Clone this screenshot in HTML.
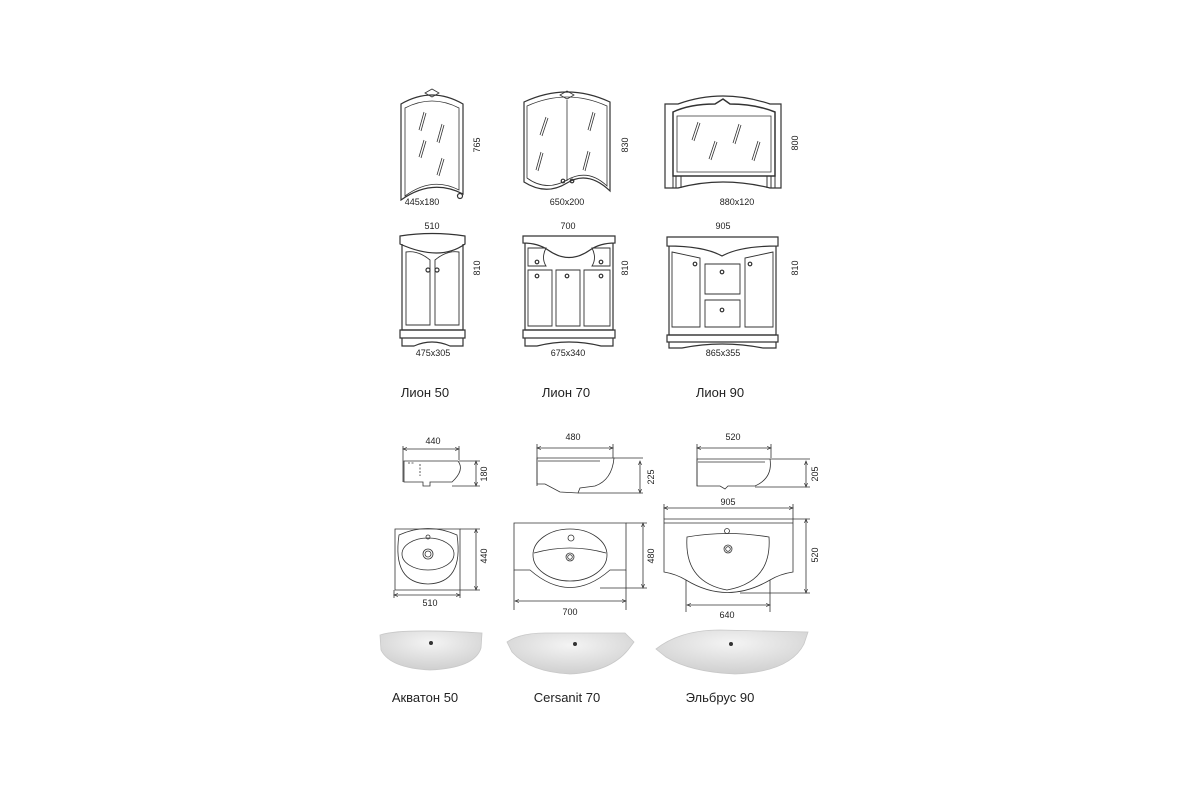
<!DOCTYPE html>
<html><head><meta charset="utf-8"><style>
html,body{margin:0;padding:0;background:#fff;}
svg{display:block}
text{font-family:"Liberation Sans","DejaVu Sans",sans-serif;fill:#222}
.s{font-size:9px}
.l{font-size:13px}
</style></head><body>
<svg width="1200" height="800" viewBox="0 0 1200 800" xmlns="http://www.w3.org/2000/svg">
<defs>
<marker id="a" markerWidth="6" markerHeight="6" refX="5" refY="3" orient="auto"><path d="M0,1 L5,3 L0,5" fill="none" stroke="#333" stroke-width="0.8"/></marker>
<marker id="b" markerWidth="6" markerHeight="6" refX="1" refY="3" orient="auto"><path d="M6,1 L1,3 L6,5" fill="none" stroke="#333" stroke-width="0.8"/></marker>
<radialGradient id="g" cx="50%" cy="30%" r="70%"><stop offset="0" stop-color="#f4f4f4"/><stop offset="1" stop-color="#cfcfcf"/></radialGradient>
</defs>
<g fill="none" stroke="#333" stroke-width="1.2">
<!-- Mirror 1 -->
<path d="M401,104 Q432,86 463,104 L463,194 Q432,178 401,200 Z"/>
<path d="M405,108 Q432,94 459,108 L459,190 Q432,176 405,196 Z" stroke-width="0.8"/>
<path d="M425,93 L432,89 L439,93 L432,97Z" stroke-width="0.8"/>
<circle cx="460" cy="196" r="2.5"/>
<g stroke-width="0.8"><path d="M419,130 L424,112 M421,131 L426,113 M437,142 L442,124 M439,143 L444,125 M419,157 L424,140 M421,158 L426,141 M437,175 L442,158 M439,176 L444,159"/></g>
<!-- Mirror 2 -->
<path d="M524,102 Q567,82 610,102 L610,191 Q588,170 567,183 Q546,196 524,182 Z"/>
<path d="M527,106 Q567,88 607,106 L607,186 Q588,168 567,180 Q546,192 527,178 Z" stroke-width="0.8"/>
<line x1="567" y1="100" x2="567" y2="181" stroke-width="0.8"/>
<path d="M560,95 L567,91 L574,95 L567,99Z" stroke-width="0.8"/>
<circle cx="563" cy="181" r="1.8"/><circle cx="572" cy="181" r="1.8"/>
<g stroke-width="0.8"><path d="M540,135 L546,117 M542,136 L548,118 M588,130 L593,112 M590,131 L595,113 M536,170 L541,152 M538,171 L543,153 M583,170 L588,151 M585,171 L590,152"/></g>
<!-- Mirror 3 -->
<path d="M665,104 L678,104 Q722,88 770,104 L781,104 L781,188 L770,188 Q722,176 678,188 L665,188 Z"/>
<path d="M673,112 Q690,104 715,104 L723,99 L730,104 Q755,104 775,112 L775,176 L673,176 Z" stroke-width="1.5"/>
<path d="M677,116 L771,116 L771,172 L677,172 Z" stroke-width="0.8"/>
<path d="M673,176 L673,188 M676,176 L676,188 M681,176 L681,188 M767,176 L767,188 M771,176 L771,188 M775,176 L775,188" stroke-width="1"/>
<g stroke-width="0.8"><path d="M692,140 L698,122 M694,141 L700,123 M709,159 L715,141 M711,160 L717,142 M733,143 L739,124 M735,144 L741,125 M752,160 L758,141 M754,161 L760,142"/></g>
<!-- Cabinet 1 -->
<path d="M400,236 Q432,231 465,236 L465,244 Q440,262 400,244 Z"/>
<path d="M402,244 L402,330 L463,330 L463,244"/>
<path d="M406,252 Q418,250 430,260 L430,325 L406,325 Z M459,252 Q447,250 435,260 L435,325 L459,325 Z" stroke-width="0.9"/>
<circle cx="428" cy="270" r="2"/><circle cx="437" cy="270" r="2"/>
<path d="M400,330 L465,330 L465,338 L400,338 Z M402,338 L402,346 L414,346 Q432,338 450,346 L463,346 L463,338"/>
<!-- Cabinet 2 -->
<path d="M523,236 L615,236 L615,243 Q600,243 590,250 Q569,265 548,250 Q538,243 523,243 Z"/>
<path d="M525,243 L525,330 L613,330 L613,243"/>
<path d="M528,248 L546,248 Q541,258 546,266 L528,266 Z M610,248 L592,248 Q597,258 592,266 L610,266 Z" stroke-width="0.9"/>
<path d="M528,270 L552,270 L552,326 L528,326 Z M556,270 L580,270 L580,326 L556,326 Z M584,270 L610,270 L610,326 L584,326 Z" stroke-width="0.9"/>
<circle cx="537" cy="262" r="1.8"/><circle cx="601" cy="262" r="1.8"/><circle cx="567" cy="276" r="1.8"/><circle cx="537" cy="276" r="1.8"/><circle cx="601" cy="276" r="1.8"/>
<path d="M523,330 L615,330 L615,338 L523,338 Z M525,338 L525,346 L537,346 Q569,338 601,346 L613,346 L613,338"/>
<path d="M667,237 L778,237 L778,246 Q740,246 722,256 Q704,246 667,246 Z"/>
<path d="M669,246 L669,335 L776,335 L776,246"/>
<path d="M672,252 L700,258 L700,327 L672,327 Z M773,252 L745,258 L745,327 L773,327 Z" stroke-width="0.9"/>
<path d="M705,264 L740,264 L740,294 L705,294 Z M705,300 L740,300 L740,327 L705,327 Z" stroke-width="0.9"/>
<circle cx="695" cy="264" r="1.8"/><circle cx="750" cy="264" r="1.8"/><circle cx="722" cy="272" r="1.8"/><circle cx="722" cy="310" r="1.8"/>
<path d="M667,335 L778,335 L778,342 L667,342 Z M669,342 L669,348 L682,348 Q722,340 763,348 L776,348 L776,342"/>
</g>
<!-- texts row 1 -->
<g class="s" text-anchor="middle">
<text x="422" y="205">445x180</text><text x="567" y="205">650x200</text><text x="737" y="205">880x120</text>
<text x="432" y="229">510</text><text x="568" y="229">700</text><text x="723" y="229">905</text>
<text x="433" y="356">475x305</text><text x="568" y="356">675x340</text><text x="723" y="356">865x355</text>
<text transform="translate(480,145) rotate(-90)">765</text>
<text transform="translate(628,145) rotate(-90)">830</text>
<text transform="translate(798,143) rotate(-90)">800</text>
<text transform="translate(480,268) rotate(-90)">810</text>
<text transform="translate(628,268) rotate(-90)">810</text>
<text transform="translate(798,268) rotate(-90)">810</text>
</g>
<g class="l" text-anchor="middle">
<text x="425" y="397">Лион 50</text><text x="566" y="397">Лион 70</text><text x="720" y="397">Лион 90</text>
<text x="425" y="702">Акватон 50</text><text x="567" y="702">Cersanit 70</text><text x="720" y="702">Эльбрус 90</text>
</g>
<!-- sinks -->
<g fill="none" stroke="#333" stroke-width="0.8">
<line x1="403" y1="449" x2="459" y2="449" marker-start="url(#b)" marker-end="url(#a)"/>
<path d="M403,446 L403,482 M459,446 L459,460"/>
<path d="M404,461 L458,461 Q465,470 452,482 L430,482 L430,486 L423,486 L423,482 L404,482 Z"/>
<path d="M408,463 L414,463 M420,464 L420,476" stroke-dasharray="2,1.5"/>
<line x1="476" y1="461" x2="476" y2="486" marker-start="url(#b)" marker-end="url(#a)"/>
<path d="M459,461 L480,461 M452,486 L480,486"/>
<line x1="537" y1="448" x2="613" y2="448" marker-start="url(#b)" marker-end="url(#a)"/>
<path d="M537,444 L537,486 M613,444 L613,458"/>
<path d="M537,458 L614,458 Q612,480 595,486 L580,488 L578,493 L560,492 L545,484 L537,484 Z M538,461 L600,461"/>
<line x1="640" y1="461" x2="640" y2="493" marker-start="url(#b)" marker-end="url(#a)"/>
<path d="M614,458 L643,458 M578,493 L643,493"/>
<line x1="697" y1="448" x2="771" y2="448" marker-start="url(#b)" marker-end="url(#a)"/>
<path d="M697,444 L697,486 M771,444 L771,458"/>
<path d="M697,459 L770,459 Q773,478 755,486 L728,486 L725,489 L720,486 L697,486 Z M698,462 L765,462"/>
<line x1="806" y1="461" x2="806" y2="487" marker-start="url(#b)" marker-end="url(#a)"/>
<path d="M770,459 L810,459 M755,487 L810,487"/>
<!-- top views -->
<path d="M395,529 L460,529 L460,590 L395,590 Z"/>
<path d="M399,535 Q428,522 457,535 Q464,583 428,584 Q392,583 399,535 Z"/>
<ellipse cx="428" cy="554" rx="26" ry="16"/>
<circle cx="428" cy="554" r="5"/><circle cx="428" cy="554" r="3"/><circle cx="428" cy="537" r="2"/>
<line x1="476" y1="529" x2="476" y2="590" marker-start="url(#b)" marker-end="url(#a)"/>
<path d="M460,529 L480,529 M460,590 L480,590"/>
<line x1="394" y1="595" x2="460" y2="595" marker-start="url(#b)" marker-end="url(#a)"/>
<path d="M394,590 L394,598 M460,590 L460,598"/>
<path d="M514,523 L626,523 L626,570 L610,570 Q570,605 530,570 L514,570 Z"/>
<ellipse cx="570" cy="555" rx="37" ry="26"/>
<path d="M534,553 Q570,543 606,553"/>
<circle cx="571" cy="538" r="3"/><circle cx="570" cy="557" r="4"/><circle cx="570" cy="557" r="2.3"/>
<line x1="643" y1="523" x2="643" y2="588" marker-start="url(#b)" marker-end="url(#a)"/>
<path d="M626,523 L647,523 M600,588 L647,588"/>
<line x1="515" y1="601" x2="626" y2="601" marker-start="url(#b)" marker-end="url(#a)"/>
<path d="M514,570 L514,610 M626,570 L626,610"/>
<line x1="664" y1="508" x2="793" y2="508" marker-start="url(#b)" marker-end="url(#a)"/>
<path d="M664,504 L664,519 M793,504 L793,519"/>
<path d="M664,519 L793,519 L793,572 Q780,574 770,580 Q727,605 686,580 Q676,574 664,572 Z M664,523 L793,523"/>
<path d="M687,537 Q727,530 769,537 Q772,582 727,590 Q684,582 687,537 Z"/>
<circle cx="727" cy="531" r="2.5"/><circle cx="728" cy="549" r="4"/><circle cx="728" cy="549" r="2.3"/>
<line x1="806" y1="519" x2="806" y2="593" marker-start="url(#b)" marker-end="url(#a)"/>
<path d="M793,519 L810,519 M740,593 L810,593"/>
<line x1="687" y1="605" x2="770" y2="605" marker-start="url(#b)" marker-end="url(#a)"/>
<path d="M686,580 L686,612 M770,580 L770,612"/>
</g>
<g class="s" text-anchor="middle">
<text x="433" y="444">440</text><text x="573" y="440">480</text><text x="733" y="440">520</text>
<text x="728" y="505">905</text><text x="430" y="606">510</text><text x="570" y="615">700</text><text x="727" y="618">640</text>
<text transform="translate(487,474) rotate(-90)">180</text>
<text transform="translate(654,477) rotate(-90)">225</text>
<text transform="translate(818,474) rotate(-90)">205</text>
<text transform="translate(487,556) rotate(-90)">440</text>
<text transform="translate(654,556) rotate(-90)">480</text>
<text transform="translate(818,555) rotate(-90)">520</text>
</g>
<!-- photos -->
<g fill="url(#g)" stroke="#c8c8c8" stroke-width="0.8">
<path d="M380,635 Q400,628 482,633 L481,648 Q475,668 430,670 Q390,668 381,650 Z"/>
<path d="M507,642 Q520,633 545,633 L625,633 L634,642 L628,650 Q610,672 570,674 Q530,672 512,652 Z"/>
<path d="M656,649 Q680,630 720,630 L808,632 L804,644 Q790,672 735,674 Q690,672 666,657 Z"/>
</g>
<circle cx="431" cy="643" r="2" fill="#333"/><circle cx="575" cy="644" r="2" fill="#333"/><circle cx="731" cy="644" r="2" fill="#333"/>
</svg>
</body></html>
